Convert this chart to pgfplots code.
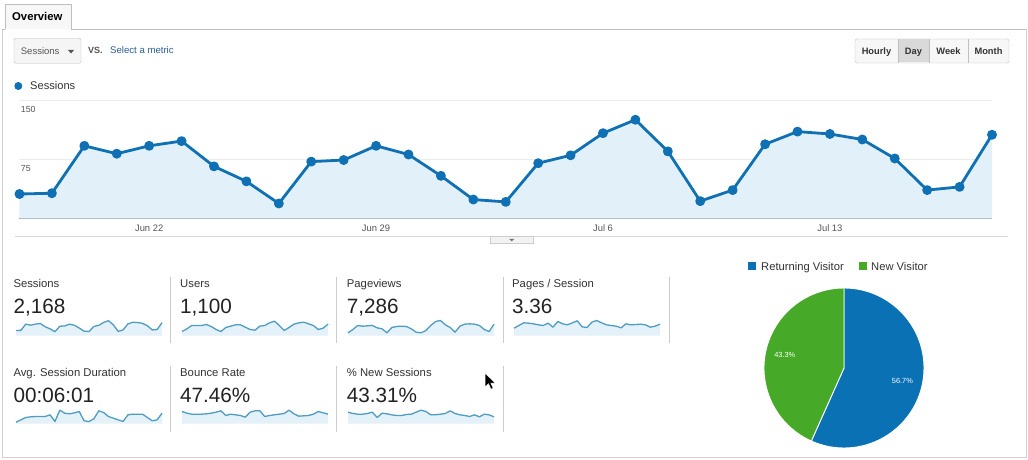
\documentclass[border=0pt]{standalone}
\usepackage{pgfplots}
\pgfplotsset{compat=1.18}
\usepackage{pgfplotstable}
\usepackage{fontspec}
\setmainfont{Liberation Sans}

\definecolor{gablue}{HTML}{0F70B3}
\definecolor{gafill}{HTML}{E2F0F9}
\definecolor{spark}{HTML}{4F9DC2}
\definecolor{sparkfill}{HTML}{E4F1F8}
\definecolor{pieblue}{HTML}{0B71B5}
\definecolor{piegreen}{HTML}{46A928}
\definecolor{linkblue}{HTML}{2A5D94}
\definecolor{txt}{HTML}{333333}
\definecolor{num}{HTML}{222222}
\definecolor{lbl}{HTML}{555555}

% Sessions per day, Jun 18 - Jul 18
\pgfplotstableread{
d v
0 31
1 32
2 92
3 82
4 92
5 98
6 66
7 47
8 19
9 72
10 74
11 92
12 81
13 54
14 24
15 21
16 70
17 80
18 108
19 125
20 85
21 22
22 36
23 94
24 110
25 107
26 100
27 76
28 36
29 40
30 106
}\sessions

% sparkline shapes (relative heights)
\pgfplotstableread{
d u p ps dur br ns
0 12 8 22 4 36 34
1 20 18 30 11 31 30
2 30 30 38 18 28 28
3 30 28 37 20 28 28
4 30 29 35 21 28 30
5 33 30 32 21 29 34
6 27 23 30 21 31 18
7 18 20 37 26 34 31
8 12 8 25 6 38 29
9 24 24 42 40 24 26
10 28 27 35 31 28 24
11 32 28 32 29 26 24
12 32 27 38 32 24 27
13 25 20 44 36 19 28
14 18 10 26 8 34 34
15 16 8 24 6 38 40
16 28 15 40 14 38 36
17 30 30 45 38 21 26
18 38 42 38 33 24 26
19 43 45 32 21 26 28
20 30 32 30 16 28 30
21 15 24 28 11 30 38
22 24 10 23 6 40 30
23 34 28 35 26 29 26
24 38 34 32 28 22 24
25 40 35 33 28 23 21
26 35 34 34 28 24 26
27 30 30 32 18 28 20
28 18 18 25 8 36 28
29 22 12 28 11 32 26
30 34 34 34 31 28 20
}\sparks

\newcommand{\spark}[6]{% x, baseline y, table, column, ymin, ymax
\begin{axis}[at={(#1pt,#2pt)}, anchor=south west, scale only axis,
  width=146pt, height=18pt, xmin=0, xmax=30, ymin=#5, ymax=#6,
  hide axis, clip=false]
\addplot[fill=sparkfill, draw=none] table[x=d,y=#4]{#3} |- (axis cs:0,#5) -- cycle;
\addplot[spark, line width=1.3pt, line join=round, mark=none] table[x=d,y=#4]{#3};
\end{axis}}

\begin{document}
\begin{tikzpicture}[x=1pt,y=1pt,
  t/.style={inner sep=0pt, anchor=base west, text=txt},
  ttl/.style={t, font=\fontsize{11.3}{13}\selectfont},
  big/.style={inner sep=0pt, anchor=base west, text=num, font=\fontsize{20.7}{24}\selectfont}]
\useasboundingbox (0,0) rectangle (1028,-460);
\fill[white] (0,0) rectangle (1028,-460);

% frame and tab
\draw[black!18] (2,-29.5) -- (2,-457) -- (1026,-457) -- (1026,-29.5);
\draw[black!25] (2,-29.5) -- (5,-29.5) (71,-29.5) -- (1026,-29.5);
\draw[black!25, fill=black!3] (5,-29.5) -- (5,-4) -- (71,-4) -- (71,-29.5);
\node[t, text=black, font=\bfseries\fontsize{11.3}{13}\selectfont] at (12,-20.7) {Overview};

% metric selector
\draw[black!25, fill=black!4, rounded corners=2pt] (14,-38.3) rectangle (81,-63.3);
\node[t, text=lbl, font=\fontsize{9.5}{11}\selectfont] at (20.7,-55) {Sessions};
\fill[lbl] (68,-50) -- (74,-50) -- (71,-53.5) -- cycle;
\node[t, text=lbl, font=\bfseries\fontsize{9}{11}\selectfont] at (88,-54) {VS.};
\node[t, text=linkblue, font=\fontsize{9.6}{11}\selectfont] at (110,-54) {Select a metric};

% period buttons
\draw[black!25, fill=black!3, rounded corners=2pt] (855,-39) rectangle (1009,-63);
\fill[black!15] (898,-39.5) rectangle (929,-62.5);
\draw[black!25] (898,-39) -- (898,-63) (929,-39) -- (929,-63) (968,-39) -- (968,-63);
\foreach \cx/\lab in {876.5/Hourly, 913.5/Day, 948.5/Week, 988.5/Month}
  \node[inner sep=0pt, anchor=base, text=txt, font=\bfseries\fontsize{9.3}{11}\selectfont] at (\cx,-55) {\lab};

% legend of main chart
\fill[gablue] (18.3,-86) circle (4);
\node[t, font=\fontsize{11.1}{13}\selectfont] at (30,-89.3) {Sessions};

% main chart
\begin{axis}[at={(19.5pt,-218.5pt)}, anchor=south west, scale only axis,
  width=972.5pt, height=118.5pt, xmin=0, xmax=30, ymin=0, ymax=150,
  clip=false,
  axis x line=bottom, axis y line=left,
  x axis line style={draw=black!60, line width=1.3pt, -},
  y axis line style={draw=none},
  tick style={draw=none},
  ymajorgrids, grid style={draw=black!8, line width=0.8pt},
  ytick={75,150},
  yticklabel style={anchor=north west, text=lbl, font=\fontsize{8.8}{10}\selectfont, yshift=-3pt},
  xtick={4,11,18,25},
  xticklabels={Jun 22, Jun 29, Jul 6, Jul 13},
  xticklabel style={text=lbl, font=\fontsize{9.4}{11}\selectfont, yshift=-1pt},
  /pgf/number format/assume math mode=true]
\addplot[fill=gafill, draw=none] table[x=d,y=v]{\sessions} \closedcycle;
\addplot[gablue, line width=2.8pt, line join=round, mark=*, mark size=3.5pt,
  mark options={solid, fill=gablue, draw=none}] table[x=d,y=v]{\sessions};
\end{axis}

% separator and handle
\draw[black!15, line width=0.8pt] (15,-236.5) -- (1008,-236.5);
\draw[black!20, fill=black!5] (490,-236.5) rectangle (533.5,-243);
\fill[black!55] (509,-238.8) -- (514.5,-238.8) -- (511.75,-241.3) -- cycle;

% scorecard dividers
\draw[black!20, line width=0.8pt] (170.5,-276.5) -- (170.5,-343) (336.5,-276.5) -- (336.5,-343)
  (503,-276.5) -- (503,-343) (669.5,-276.5) -- (669.5,-343)
  (170.5,-366) -- (170.5,-432) (336.5,-366) -- (336.5,-432) (503,-366) -- (503,-432);

% scorecards row 1
\node[ttl] at (13.3,-287.3) {Sessions};
\node[big] at (13.3,-313.3) {2,168};
\node[ttl] at (180,-287.3) {Users};
\node[big] at (180,-313.3) {1,100};
\node[ttl] at (346.7,-287.3) {Pageviews};
\node[big] at (346.7,-313.3) {7,286};
\node[ttl] at (512,-287.3) {Pages / Session};
\node[big] at (512,-313.3) {3.36};
% scorecards row 2
\node[ttl] at (13.3,-376) {Avg. Session Duration};
\node[big] at (13.3,-402.3) {00:06:01};
\node[ttl] at (180,-376) {Bounce Rate};
\node[big] at (180,-402.3) {47.46\%};
\node[ttl] at (346.7,-376) {\% New Sessions};
\node[big] at (346.7,-402.3) {43.31\%};

% sparklines
\spark{16}{-335.5}{\sessions}{v}{-17.6}{155.8}
\spark{182}{-335.5}{\sparks}{u}{0}{54}
\spark{348}{-335.5}{\sparks}{p}{0}{54}
\spark{514}{-335.5}{\sparks}{ps}{0}{54}
\spark{16}{-423.5}{\sparks}{dur}{0}{54}
\spark{182}{-423.5}{\sparks}{br}{0}{54}
\spark{348}{-423.5}{\sparks}{ns}{0}{54}

% pie legend
\fill[pieblue] (748,-262) rectangle (756,-270);
\node[t, font=\fontsize{11.2}{13}\selectfont] at (761,-270.5) {Returning Visitor};
\fill[piegreen] (859,-262) rectangle (867,-270);
\node[t, font=\fontsize{11.2}{13}\selectfont] at (871,-270.5) {New Visitor};

% pie
\begin{axis}[at={(844pt,-368pt)}, anchor=center, scale only axis,
  width=160pt, height=160pt, xmin=-1, xmax=1, ymin=-1, ymax=1,
  hide axis, clip=false]
\pgfmathsetmacro\ang{90-3.6*56.7}
\filldraw[fill=pieblue, draw=white, line width=0.9pt] (axis cs:0,0) -- ++(90:80pt)
  arc[start angle=90, end angle=\ang, radius=80pt] -- cycle;
\filldraw[fill=piegreen, draw=white, line width=0.9pt] (axis cs:0,0) -- ++(\ang:80pt)
  arc[start angle=\ang, end angle=-270, radius=80pt] -- cycle;
\node[text=white, inner sep=0pt, font=\fontsize{7.4}{8}\selectfont] at (axis cs:0.73,-0.16) {56.7\%};
\node[text=white, inner sep=0pt, font=\fontsize{7.4}{8}\selectfont] at (axis cs:-0.74,0.16) {43.3\%};
\end{axis}

% mouse cursor
\filldraw[fill=black, draw=white, line width=0.5pt] (485,-373) -- (485,-387) -- (488.5,-383.8)
  -- (491,-389.2) -- (493.2,-388.2) -- (490.8,-383) -- (495.2,-383) -- cycle;
\end{tikzpicture}
\end{document}
